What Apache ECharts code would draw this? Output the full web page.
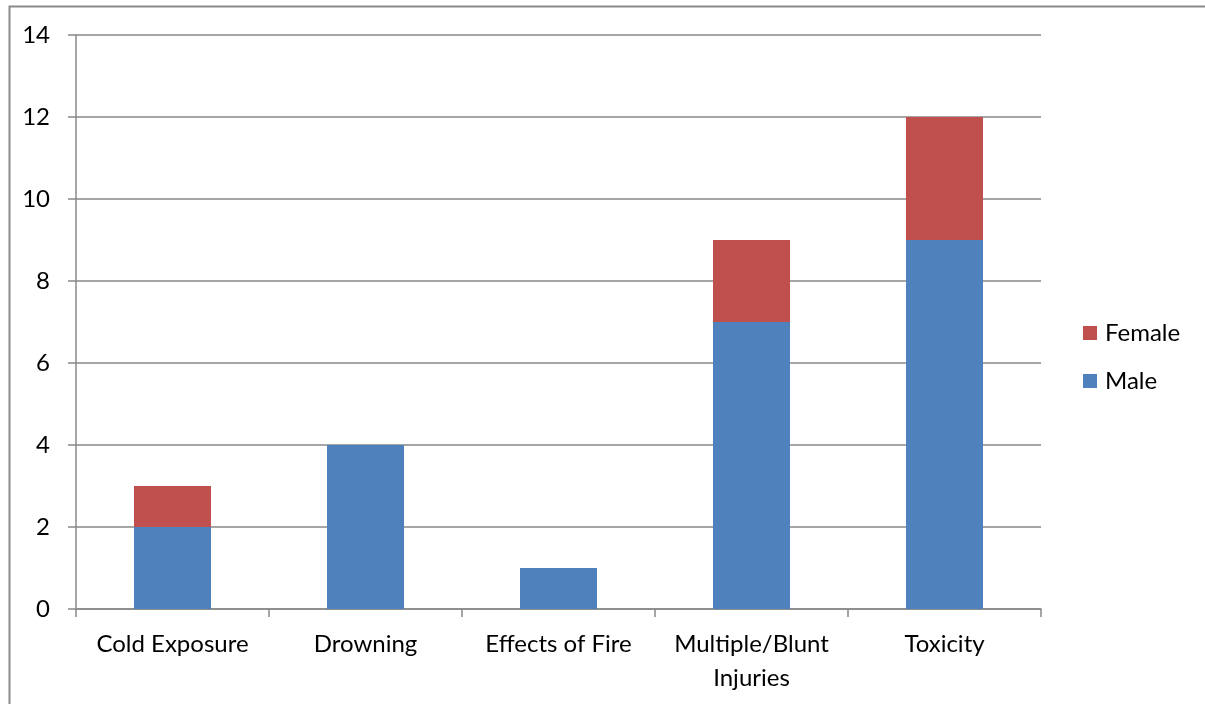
<!DOCTYPE html>
<html><head><meta charset="utf-8">
<script src="https://cdn.jsdelivr.net/npm/echarts@6/dist/echarts.min.js"></script>
<style>html,body{margin:0;padding:0;background:#fff}#c{width:1205px;height:704px}</style>
</head><body><div id="c"></div>
<script>
const categories = ["Cold Exposure", "Drowning", "Effects of Fire", "Multiple/Blunt\nInjuries", "Toxicity"];
const maleValues = [2, 4, 1, 7, 9];
const femaleValues = [1, 0, 0, 2, 3];
const yTicks = [0, 2, 4, 6, 8, 10, 12, 14];

const FONT = 'Lato';
const FS = 24;
const chart = echarts.init(document.getElementById('c'), null, {renderer: 'canvas'});
chart.setOption({
  animation: false,
  backgroundColor: '#fff',
  graphic: [{
    type: 'rect', left: 7, top: 4, shape: {width: 1300, height: 800},
    style: {fill: 'none', stroke: '#8a8a8a', lineWidth: 2}, silent: true, z: -1
  }],
  grid: {left: 76, right: 164, top: 35, bottom: 95, containLabel: false},
  legend: {
    orient: 'vertical', left: 1078, top: 316,
    data: ['Female', 'Male'], icon: 'rect', itemWidth: 14, itemHeight: 14, itemGap: 24,
    textStyle: {fontFamily: FONT, fontSize: FS, color: '#000', padding: [0,0,0,3]}
  },
  xAxis: {
    type: 'category', data: categories,
    axisLine: {lineStyle: {color: '#888', width: 1.5}},
    axisTick: {show: true, length: 8, lineStyle: {color: '#888', width: 1.5}},
    axisLabel: {fontFamily: FONT, fontSize: FS, color: '#000', margin: 18, lineHeight: 34, interval: 0},
    splitLine: {show: false}
  },
  yAxis: {
    type: 'value', min: yTicks[0], max: yTicks[yTicks.length-1], interval: 2,
    axisLine: {show: true, lineStyle: {color: '#888', width: 1.5}},
    axisTick: {show: true, length: 8, lineStyle: {color: '#888', width: 1.5}},
    axisLabel: {fontFamily: FONT, fontSize: FS, color: '#000', margin: 26},
    splitLine: {show: true, lineStyle: {color: '#888', width: 1.5}}
  },
  series: [
    {name: 'Male', type: 'bar', stack: 'total', data: maleValues, barWidth: 77,
     itemStyle: {color: '#4F81BD'}},
    {name: 'Female', type: 'bar', stack: 'total', data: femaleValues, barWidth: 77,
     itemStyle: {color: '#C0504D'}}
  ]
});
</script></body></html>
